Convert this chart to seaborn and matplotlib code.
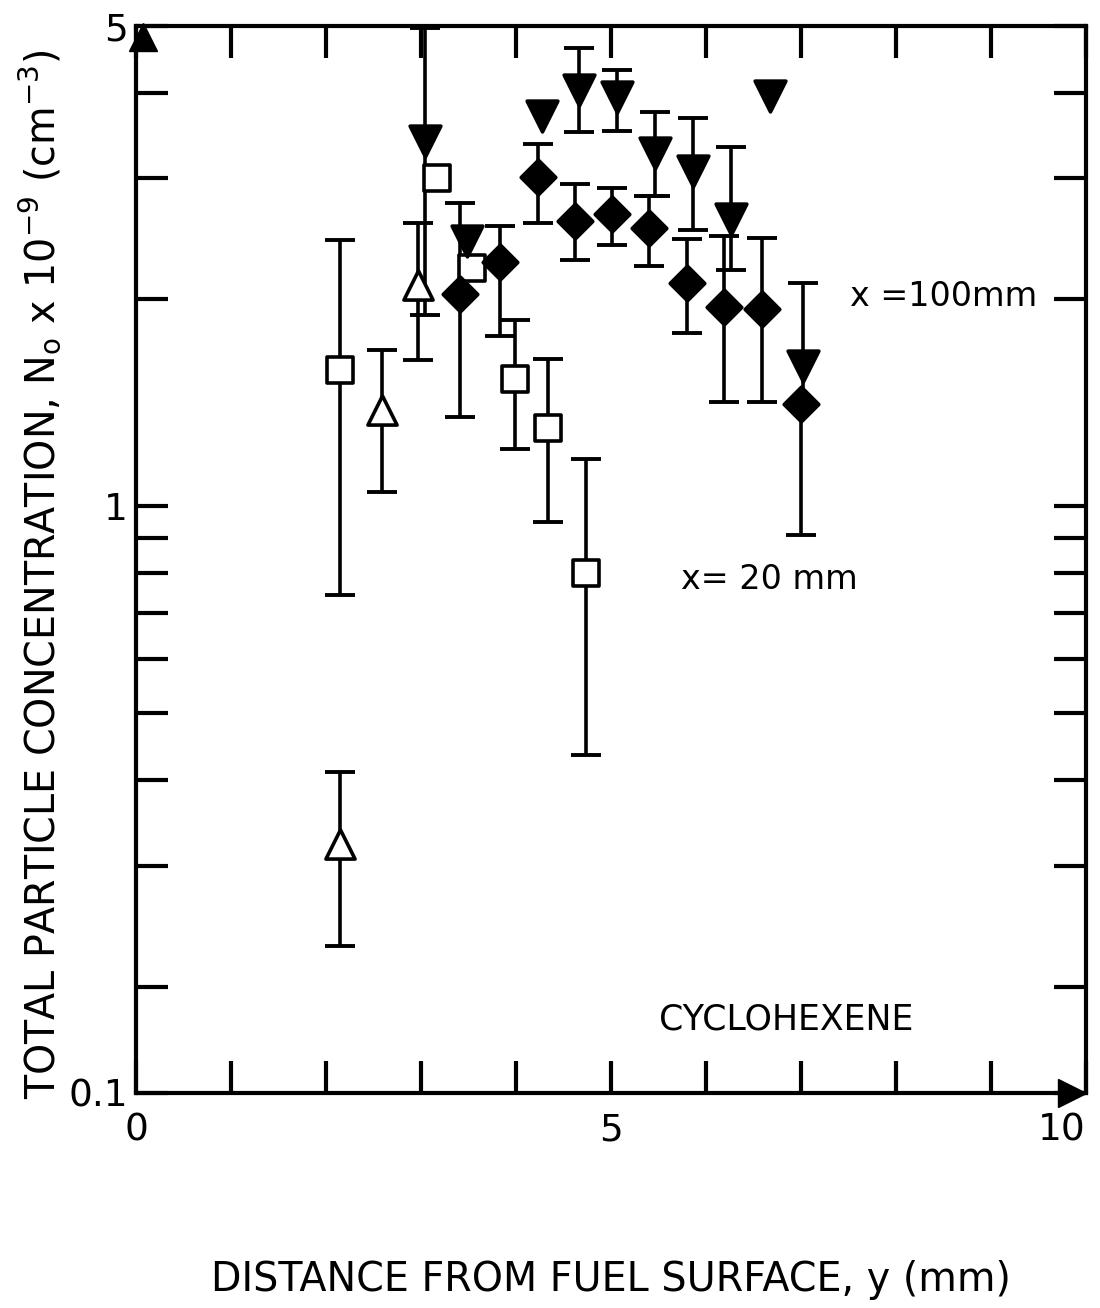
import numpy as np
import pandas as pd
import matplotlib
matplotlib.use("Agg")
import matplotlib.pyplot as plt
from matplotlib.ticker import NullFormatter, FixedLocator
import seaborn as sns

nan = np.nan

# ---- data ----
# open squares (x = 20 mm)
sq_x = [2.15, 3.17, 3.54, 3.99, 4.34, 4.74]
sq_y = [1.58, 3.00, 2.22, 1.53, 1.30, 0.80]
sq_lo = [0.744, nan, nan, 1.21, 0.95, 0.435]
sq_hi = [2.44, nan, nan, 1.87, 1.64, 1.17]

# open triangles (x = 20 mm)
tri_x = [2.15, 2.59, 2.97]
tri_y = [0.323, 1.38, 2.10]
tri_lo = [0.229, 1.05, 1.63]
tri_hi = [0.411, 1.69, 2.58]

# filled down-triangles (x = 100 mm)
dtri_x = [3.04, 3.48, 4.27, 4.66, 5.06, 5.46, 5.86, 6.26, 6.67, 7.02]
dtri_y = [3.40, 2.43, 3.70, 4.03, 3.94, 3.27, 3.08, 2.62, 3.96, 1.60]
dtri_lo = [1.90, nan, nan, 3.50, 3.52, 2.83, 2.52, 2.21, nan, 1.41]
dtri_hi = [4.97, nan, nan, 4.64, 4.31, 3.75, 3.67, 3.33, nan, 2.11]

# filled diamonds (x = 100 mm)
dia_x = [3.41, 3.83, 4.23, 4.62, 5.01, 5.40, 5.80, 6.19, 6.59, 7.00]
dia_y = [2.04, 2.27, 3.01, 2.60, 2.66, 2.54, 2.11, 1.95, 1.94, 1.41]
dia_lo = [1.35, 1.77, 2.58, 2.28, 2.40, 2.24, 1.79, 1.42, 1.42, 0.907]
dia_hi = [2.76, 2.56, 3.37, 2.94, 2.91, 2.83, 2.45, 2.47, 2.46, 1.41]

x_major = [0, 5, 10]
x_major_labels = ["0", "5", "10"]
x_minor = [1, 2, 3, 4, 6, 7, 8, 9]
y_bottom = 0.14
y_top = 5.0
y_major = [y_bottom, 1, y_top]
y_major_labels = ["0.1", "1", "5"]
y_minor = [0.2, 0.3, 0.4, 0.5, 0.6, 0.7, 0.8, 0.9, 2, 3, 4]

# ---- style ----
sns.set_style("white")
plt.rcParams["font.family"] = ["DejaVu Sans"]
plt.rcParams["mathtext.default"] = "regular"
plt.rcParams["text.color"] = "black"
plt.rcParams["axes.labelcolor"] = "black"
plt.rcParams["xtick.color"] = "black"
plt.rcParams["ytick.color"] = "black"

fig = plt.figure(figsize=(11, 13.08), dpi=100)
ax = fig.add_axes([0.1236, 0.1644, 0.8636, 0.8157])

series = [
    (sq_x, sq_y, sq_lo, sq_hi, "s", 340, "white"),
    (tri_x, tri_y, tri_lo, tri_hi, "^", 440, "white"),
    (dtri_x, dtri_y, dtri_lo, dtri_hi, "v", 490, "black"),
    (dia_x, dia_y, dia_lo, dia_hi, "D", 310, "black"),
]

for xs, ys, lo, hi, mk, size, fc in series:
    df = pd.DataFrame({"x": xs, "y": ys, "lo": lo, "hi": hi})
    eb = df.dropna()
    if len(eb):
        ax.errorbar(eb["x"], eb["y"],
                    yerr=[eb["y"] - eb["lo"], eb["hi"] - eb["y"]],
                    fmt="none", ecolor="black", elinewidth=2.6,
                    capsize=11, capthick=2.8, zorder=2)
    sns.scatterplot(data=df, x="x", y="y", marker=mk, s=size,
                    facecolor=fc, edgecolor="black", linewidth=2.6,
                    ax=ax, zorder=3, legend=False)

ax.set_yscale("log")
ax.set_xlim(0, 10)
ax.set_ylim(y_bottom, y_top)

ax.xaxis.set_major_locator(FixedLocator(x_major))
ax.set_xticklabels(x_major_labels)
ax.xaxis.set_minor_locator(FixedLocator(x_minor))
ax.xaxis.set_minor_formatter(NullFormatter())
ax.yaxis.set_major_locator(FixedLocator(y_major))
ax.set_yticklabels(y_major_labels)
ax.yaxis.set_minor_locator(FixedLocator(y_minor))
ax.yaxis.set_minor_formatter(NullFormatter())

ax.tick_params(which="both", direction="in", length=23, width=3,
               top=True, right=True, left=True, bottom=True, color="black")
ax.tick_params(axis="x", which="major", labelsize=27, pad=14)
ax.tick_params(axis="y", which="major", labelsize=27, pad=6)
ax.get_xticklabels()[-1].set_horizontalalignment("right")

for sp in ax.spines.values():
    sp.set_linewidth(3)
    sp.set_color("black")

ax.set_xlabel("DISTANCE FROM FUEL SURFACE, y (mm)", fontsize=28.5, labelpad=80)
ax.set_ylabel(r"TOTAL PARTICLE CONCENTRATION, N$_o$ x 10$^{-9}$ (cm$^{-3}$)",
              fontsize=28.5)
ax.yaxis.set_label_coords(-0.076, 0.486)

# axis arrows
ax.plot([0.007], [0.99], marker="^", ms=20, color="black",
        transform=ax.transAxes, clip_on=False, zorder=6)
ax.plot([0.985], [0.0], marker=">", ms=20, color="black",
        transform=ax.transAxes, clip_on=False, zorder=6)

# annotations
ax.text(8.5, 2.02, "x =100mm", fontsize=24, ha="center", va="center")
ax.text(6.67, 0.782, "x= 20 mm", fontsize=24, ha="center", va="center")
ax.text(6.85, 0.179, "CYCLOHEXENE", fontsize=25, ha="center", va="center")

fig.savefig("out.png", dpi=100, facecolor="white")
